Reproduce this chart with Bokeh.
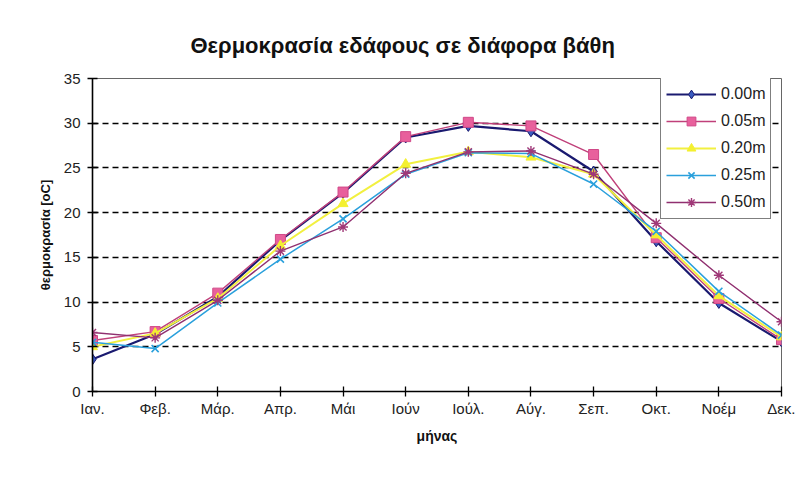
from bokeh.plotting import figure
from bokeh.models import FixedTicker, Range1d, Legend, LegendItem
from bokeh.embed import file_html
from bokeh.resources import INLINE

months = ["Ιαν.", "Φεβ.", "Μάρ.", "Απρ.", "Μάι", "Ιούν", "Ιούλ.", "Αύγ.", "Σεπ.", "Οκτ.", "Νοέμ", "Δεκ."]
depth_000 = [3.6, 6.4, 10.6, 16.9, 22.2, 28.4, 29.7, 29.1, 24.6, 16.8, 9.9, 5.6]
depth_005 = [5.7, 6.7, 11.0, 17.0, 22.3, 28.5, 30.1, 29.7, 26.5, 17.2, 10.4, 5.8]
depth_020 = [5.0, 6.5, 10.4, 16.3, 21.0, 25.4, 26.8, 26.2, 24.3, 17.5, 10.7, 6.1]
depth_025 = [5.5, 4.8, 9.9, 14.8, 19.3, 24.3, 26.7, 26.6, 23.2, 17.9, 11.2, 6.3]
depth_050 = [6.6, 6.0, 10.2, 15.7, 18.4, 24.4, 26.8, 26.9, 24.3, 18.8, 13.0, 7.8]
series_names = ["0.00m", "0.05m", "0.20m", "0.25m", "0.50m"]

FONT = "Liberation Sans"
xs = list(range(len(months)))

p = figure(width=795, height=475, output_backend="svg", toolbar_location=None,
           x_range=Range1d(0, 11), y_range=Range1d(0, 35),
           min_border_left=92, min_border_right=14, min_border_top=78, min_border_bottom=84)

p.title.text = "Θερμοκρασία εδάφους σε διάφορα βάθη"
p.title.align = "left"
p.title.text_font = FONT
p.title.text_font_size = "22px"
p.title.text_font_style = "bold"
p.title.text_color = "#111111"
p.title.offset = 98
p.title.standoff = 42

p.outline_line_color = "#666666"
p.outline_line_width = 1
p.xgrid.visible = False
p.ygrid.grid_line_color = "black"
p.ygrid.grid_line_dash = "6 4"
p.ygrid.grid_line_width = 1.4
p.ygrid.ticker = FixedTicker(ticks=[5, 10, 15, 20, 25, 30])

p.xaxis.ticker = FixedTicker(ticks=xs)
p.xaxis.major_label_overrides = {i: m for i, m in enumerate(months)}
p.yaxis.ticker = FixedTicker(ticks=[0, 5, 10, 15, 20, 25, 30, 35])
for ax in (p.xaxis, p.yaxis):
    ax.axis_line_color = "black"
    ax.axis_line_width = 1.6
    ax.major_tick_line_color = "black"
    ax.major_tick_line_width = 1.3
    ax.major_tick_in = 5
    ax.major_tick_out = 5
    ax.minor_tick_line_color = None
    ax.major_label_text_font = FONT
    ax.major_label_text_font_size = "15px"
    ax.major_label_text_color = "#222222"
    ax.axis_label_text_font = FONT
    ax.axis_label_text_font_style = "bold"
    ax.axis_label_text_color = "#111111"
p.xaxis.axis_label = "μήνας"
p.yaxis.axis_label = "θερμοκρασία [oC]"
p.xaxis.axis_label_text_font_size = "14px"
p.yaxis.axis_label_text_font_size = "13px"
p.xaxis.major_label_standoff = 3
p.xaxis.axis_label_standoff = 8
p.yaxis.major_label_standoff = 7
p.yaxis.axis_label_standoff = 8

items = []
# 0.00m
r_l = p.line(xs, depth_000, line_color="#1a1a70", line_width=2.2)
r_m = p.scatter(xs, depth_000, marker="diamond", size=11, fill_color="#3a5cc0", line_color="#1a1a70")
items.append(LegendItem(label=series_names[0], renderers=[r_l, r_m]))
# 0.05m
r_l = p.line(xs, depth_005, line_color="#c0407a", line_width=1.4)
r_m = p.scatter(xs, depth_005, marker="square", size=10, fill_color="#e8609c", line_color="#d04888")
items.append(LegendItem(label=series_names[1], renderers=[r_l, r_m]))
# 0.20m
r_l = p.line(xs, depth_020, line_color="#f2f040", line_width=2)
r_m = p.scatter(xs, depth_020, marker="triangle", size=10, fill_color="#f4f030", line_color="#f4f030")
items.append(LegendItem(label=series_names[2], renderers=[r_l, r_m]))
# 0.25m
r_l = p.line(xs, depth_025, line_color="#2aa0dc", line_width=1.5)
r_m = p.scatter(xs, depth_025, marker="x", size=10, line_color="#2aa0dc", line_width=1.6)
items.append(LegendItem(label=series_names[3], renderers=[r_l, r_m]))
# 0.50m
r_l = p.line(xs, depth_050, line_color="#903070", line_width=1.4)
r_m = p.scatter(xs, depth_050, marker="asterisk", size=10, line_color="#a03878", line_width=1.4)
items.append(LegendItem(label=series_names[4], renderers=[r_l, r_m]))

legend = Legend(items=items, location=(568, 172))
legend.border_line_color = "black"
legend.border_line_width = 1.5
legend.background_fill_color = "white"
legend.background_fill_alpha = 1
legend.label_text_font = FONT
legend.label_text_font_size = "16px"
legend.label_text_color = "#222222"
legend.glyph_width = 50
legend.glyph_height = 22
legend.label_height = 22
legend.spacing = 5
legend.padding = 5
legend.margin = 0
legend.label_standoff = 5
p.add_layout(legend, "center")

open("out.html", "w").write(file_html(p, INLINE))
